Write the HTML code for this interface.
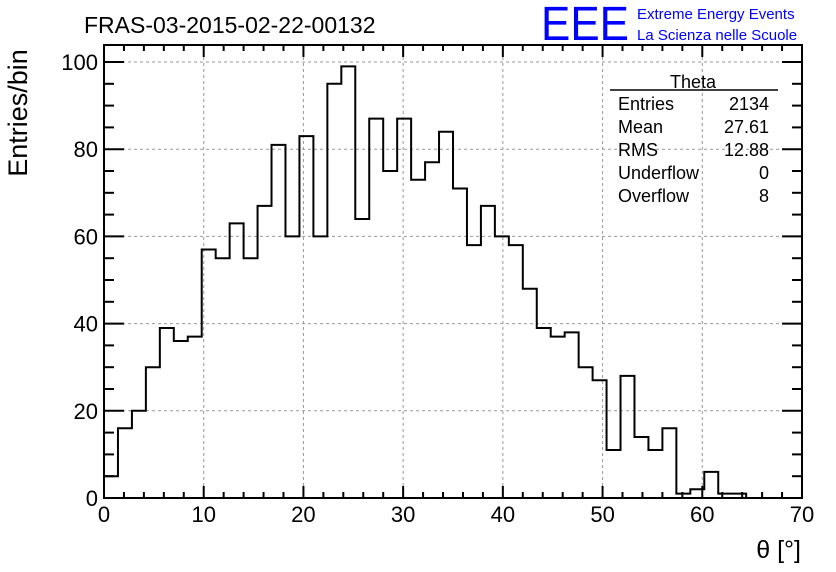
<!DOCTYPE html>
<html><head><meta charset="utf-8"><style>
html,body{margin:0;padding:0;background:#fff}
svg{display:block;font-family:"Liberation Sans",sans-serif}
</style></head><body>
<svg id="c" width="836" height="572">
<rect width="836" height="572" fill="#fff"/>
<text x="84" y="33" font-size="23">FRAS-03-2015-02-22-00132</text>
<g fill="#0000ff">
<text x="541" y="40" font-size="48" font-weight="normal" textLength="88" lengthAdjust="spacingAndGlyphs">EEE</text>
<text x="637" y="19" font-size="15">Extreme Energy Events</text>
<text x="637" y="40" font-size="15">La Scienza nelle Scuole</text>
</g>
<g id="grid"></g>
<path id="hist" fill="none" stroke="#000" stroke-width="2"/>
<g id="axes"></g>
<text x="27" y="113" font-size="27" text-anchor="middle" transform="rotate(-90 27 113)">Entries/bin</text>
<text x="801" y="558" font-size="25" text-anchor="end">θ [°]</text>
<g font-size="18">
<text x="693" y="88" text-anchor="middle">Theta</text>
<line x1="610" y1="90" x2="778" y2="90" stroke="#000" stroke-width="1.5"/>
<text x="618" y="110">Entries</text><text x="769" y="110" text-anchor="end">2134</text>
<text x="618" y="133">Mean</text><text x="769" y="133" text-anchor="end">27.61</text>
<text x="618" y="156">RMS</text><text x="769" y="156" text-anchor="end">12.88</text>
<text x="618" y="179">Underflow</text><text x="769" y="179" text-anchor="end">0</text>
<text x="618" y="202">Overflow</text><text x="769" y="202" text-anchor="end">8</text>
</g>
</svg>
<script>
const binWidth = 1.4;
const counts = [5,16,20,30,39,36,37,57,55,63,55,67,81,60,83,60,95,99,64,87,75,87,73,77,84,71,58,67,60,58,48,39,37,38,30,27,11,28,14,11,16,1,2,6,1,1,0,0,0,0];
const xTicks = [0,10,20,30,40,50,60,70];
const yTicks = [0,20,40,60,80,100];
const L=104,R=802,B=498,T=45,xMax=70,yTop=100,yTopPx=62;
const X=v=>L+(R-L)*v/xMax;
const Y=v=>B-(B-yTopPx)*v/yTop;
const NS="http://www.w3.org/2000/svg";
function mk(t,a,p){const e=document.createElementNS(NS,t);for(const k in a)e.setAttribute(k,a[k]);p.appendChild(e);return e;}
const grid=document.getElementById('grid'),axes=document.getElementById('axes');
xTicks.forEach(v=>{if(v>0&&v<xMax){const g=mk('line',{x1:X(v),x2:X(v),y1:T,y2:B,stroke:'#999','stroke-dasharray':'3,3','stroke-width':1},grid);

}});
yTicks.forEach(v=>{if(v>0){const g=mk('line',{x1:L,x2:R,y1:Y(v),y2:Y(v),stroke:'#999','stroke-dasharray':'3,3','stroke-width':1},grid);

}});
let d='M'+X(0)+','+B;
counts.forEach((c,i)=>{if(c>0||i<46){d+=' V'+Y(c)+' H'+X((i+1)*binWidth);}});
d+=' V'+B;
document.getElementById('hist').setAttribute('d',d);
mk('rect',{x:L,y:T,width:R-L,height:B-T,fill:'none',stroke:'#000','stroke-width':2},axes);
for(let v=0;v<=xMax;v+=2){const len=v%10===0?12:6;
mk('line',{x1:X(v),x2:X(v),y1:B,y2:B-len,stroke:'#000','stroke-width':2},axes);
mk('line',{x1:X(v),x2:X(v),y1:T,y2:T+len,stroke:'#000','stroke-width':2},axes);}
for(let v=0;v<=100;v+=5){const len=v%20===0?20:10;
mk('line',{x1:L,x2:L+len,y1:Y(v),y2:Y(v),stroke:'#000','stroke-width':2},axes);
mk('line',{x1:R,x2:R-len,y1:Y(v),y2:Y(v),stroke:'#000','stroke-width':2},axes);}
xTicks.forEach(v=>{const t=mk('text',{x:X(v),y:522,'font-size':22,'text-anchor':'middle'},axes);t.textContent=v;

});
yTicks.forEach(v=>{const t=mk('text',{x:98,y:Y(v)+8,'font-size':22,'text-anchor':'end'},axes);t.textContent=v;

});
</script>
</body></html>
